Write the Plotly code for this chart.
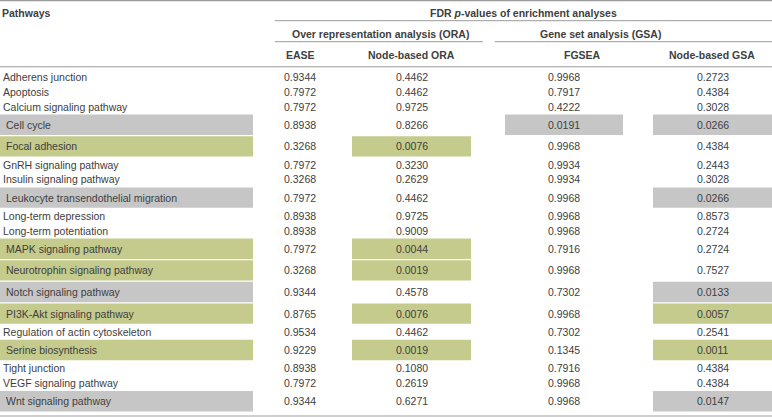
import plotly.graph_objects as go

# ---------------- data ----------------
pathways = [
    "Adherens junction", "Apoptosis", "Calcium signaling pathway", "Cell cycle",
    "Focal adhesion", "GnRH signaling pathway", "Insulin signaling pathway",
    "Leukocyte transendothelial migration", "Long-term depression",
    "Long-term potentiation", "MAPK signaling pathway", "Neurotrophin signaling pathway",
    "Notch signaling pathway", "PI3K-Akt signaling pathway",
    "Regulation of actin cytoskeleton", "Serine biosynthesis", "Tight junction",
    "VEGF signaling pathway", "Wnt signaling pathway",
]
ease = [0.9344, 0.7972, 0.7972, 0.8938, 0.3268, 0.7972, 0.3268, 0.7972, 0.8938,
        0.8938, 0.7972, 0.3268, 0.9344, 0.8765, 0.9534, 0.9229, 0.8938, 0.7972, 0.9344]
node_ora = [0.4462, 0.4462, 0.9725, 0.8266, 0.0076, 0.3230, 0.2629, 0.4462, 0.9725,
            0.9009, 0.0044, 0.0019, 0.4578, 0.0076, 0.4462, 0.0019, 0.1080, 0.2619, 0.6271]
fgsea = [0.9968, 0.7917, 0.4222, 0.0191, 0.9968, 0.9934, 0.9934, 0.9968, 0.9968,
         0.9968, 0.7916, 0.9968, 0.7302, 0.9968, 0.7302, 0.1345, 0.7916, 0.9968, 0.9968]
node_gsa = [0.2723, 0.4384, 0.3028, 0.0266, 0.4384, 0.2443, 0.3028, 0.0266, 0.8573,
            0.2724, 0.2724, 0.7527, 0.0133, 0.0057, 0.2541, 0.0011, 0.4384, 0.4384, 0.0147]

# highlight codes: "" none, "g" green, "s" grey
hl_pathway = ["", "", "", "s", "g", "", "", "s", "", "", "g", "g", "s", "g", "", "g", "", "", "s"]
hl_ease = [""] * 19
hl_node_ora = ["", "", "", "", "g", "", "", "", "", "", "g", "g", "", "g", "", "g", "", "", ""]
hl_fgsea = ["", "", "", "s", "", "", "", "", "", "", "", "", "", "", "", "", "", "", ""]
hl_node_gsa = ["", "", "", "s", "", "", "", "s", "", "", "", "", "s", "g", "", "g", "", "", "s"]

col_headers = ["EASE", "Node-based ORA", "FGSEA", "Node-based GSA"]
group_headers = ["Over representation analysis (ORA)", "Gene set analysis (GSA)"]
top_header = "FDR <i>p</i>-values of enrichment analyses"
first_header = "Pathways"

# ---------------- layout / style ----------------
W, H = 772, 417
FONT = "Liberation Sans, Arial, sans-serif"
TXT = "#404040"
FS = 10.5
LINE = "#9b9b9b"
FILL = {"g": "#c5cb8c", "s": "#c6c6c6"}

Y0 = 69.6
ROW_N = 14.8
ROW_H = 21.6
INSET = 0.6

# value columns: (values, highlights, text center x, box x0, box x1, header x)
columns = [
    (ease, hl_ease, 299.5, 240, 358, 300),
    (node_ora, hl_node_ora, 411.5, 352, 471, 411.5),
    (fgsea, hl_fgsea, 564, 505, 623, 582),
    (node_gsa, hl_node_gsa, 712.5, 653, 772, 712),
]
PATH_BOX = (0, 253)

tall = [any(c[1][i] for c in columns) or hl_pathway[i] != "" for i in range(len(pathways))]
heights = [ROW_H if t else ROW_N for t in tall]
tops = []
y = Y0
for h in heights:
    tops.append(y)
    y += h
centers = [t + h / 2 for t, h in zip(tops, heights)]

shapes = []
annotations = []


def hline(y, x0, x1, color=LINE, width=1):
    shapes.append(dict(type="line", xref="x", yref="y", x0=x0, x1=x1, y0=y, y1=y,
                       line=dict(color=color, width=width), layer="above"))


def rect(x0, x1, y0, y1, color):
    shapes.append(dict(type="rect", xref="x", yref="y", x0=x0, x1=x1, y0=y0, y1=y1,
                       fillcolor=color, line=dict(width=0), layer="below"))


def text(x, y, s, anchor="center", bold=False, size=FS):
    annotations.append(dict(x=x, y=y, xref="x", yref="y", text=f"<b>{s}</b>" if bold else s,
                            showarrow=False, xanchor=anchor, yanchor="middle",
                            font=dict(family=FONT, size=size, color=TXT)))


# rules
hline(0.6, 0, W, width=1.3)
hline(20.7, 275, W)
hline(41.7, 275, 483)
hline(41.7, 495, W)
hline(66.8, 0, W)
hline(416, 0, W, color="#cfcfcf", width=2.2)

# headers
text(0, 13, first_header, anchor="left", bold=True)
text(523, 13, top_header, bold=True)
text(380, 33.5, group_headers[0], bold=True)
text(600, 33.5, group_headers[1], bold=True)
for (vals, hl, cx, bx0, bx1, hx), name in zip(columns, col_headers):
    text(hx, 55, name, bold=True)

# body
for i, name in enumerate(pathways):
    t, h, c = tops[i], heights[i], centers[i]
    if hl_pathway[i]:
        rect(PATH_BOX[0], PATH_BOX[1], t + INSET, t + h - INSET, FILL[hl_pathway[i]])
        text(4, c, name, anchor="left")
    else:
        text(0.5, c, name, anchor="left")
    for vals, hl, cx, bx0, bx1, hx in columns:
        if hl[i]:
            rect(bx0, bx1, t + INSET, t + h - INSET, FILL[hl[i]])
        text(cx, c, f"{vals[i]:.4f}")

fig = go.Figure()
fig.add_trace(go.Scatter(x=[0, W], y=[0, H], mode="markers", marker=dict(opacity=0),
                         hoverinfo="skip", showlegend=False))
fig.update_layout(
    width=W, height=H, autosize=False,
    margin=dict(l=0, r=0, t=0, b=0),
    paper_bgcolor="white", plot_bgcolor="white",
    xaxis=dict(range=[0, W], visible=False, fixedrange=True),
    yaxis=dict(range=[H, 0], visible=False, fixedrange=True),
    shapes=shapes, annotations=annotations, showlegend=False,
)
fig.write_html(
    "out.html",
    config={"displayModeBar": False},
    post_script="document.body.style.margin='0';document.body.style.padding='0';"
                "document.documentElement.style.overflow='hidden';",
)
